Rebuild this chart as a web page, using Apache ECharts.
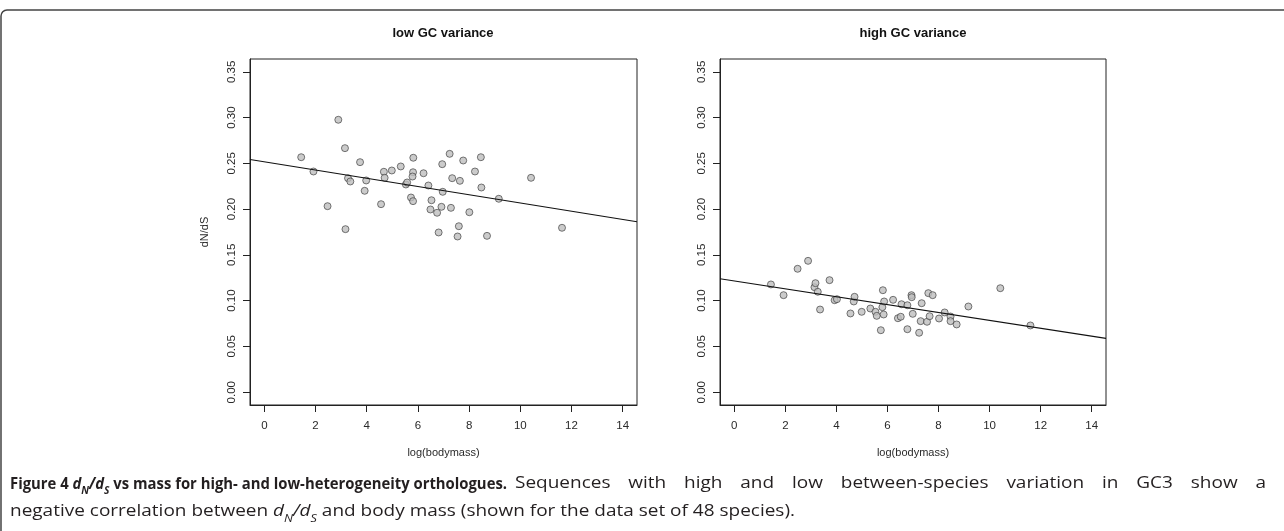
<!DOCTYPE html>
<html>
<head>
<meta charset="utf-8">
<script src="https://cdn.jsdelivr.net/npm/echarts@6/dist/echarts.min.js"></script>
<style>
html,body{margin:0;padding:0;background:#fff;}
#chart{width:1284px;height:531px;}
</style>
</head>
<body>
<div id="chart"></div>
<script>
// ---------------- data ----------------
const panelTitles = ['low GC variance', 'high GC variance'];
const xAxisTitle = 'log(bodymass)';
const yAxisTitle = 'dN/dS';
const xTickValues = [0, 2, 4, 6, 8, 10, 12, 14];
const yTickValues = [0, 0.05, 0.10, 0.15, 0.20, 0.25, 0.30, 0.35];

const lowBodymass = [1.44,1.92,2.47,2.89,3.15,3.17,3.27,3.36,3.74,3.92,3.98,4.56,4.67,4.70,4.98,5.33,5.53,5.58,5.73,5.81,5.82,5.81,5.79,6.22,6.41,6.49,6.53,6.75,6.81,6.92,6.95,6.97,7.24,7.29,7.34,7.55,7.60,7.64,7.77,8.01,8.23,8.46,8.48,8.70,9.16,10.42,11.63];
const lowDnds = [0.2567,0.2411,0.2032,0.2976,0.2666,0.1781,0.2338,0.2302,0.2513,0.2200,0.2313,0.2054,0.2408,0.2342,0.2422,0.2466,0.2269,0.2291,0.2127,0.2087,0.2561,0.2403,0.2356,0.2392,0.2258,0.1996,0.2097,0.1960,0.1745,0.2025,0.2491,0.2189,0.2604,0.2014,0.2338,0.1701,0.1813,0.2309,0.2531,0.1966,0.2411,0.2567,0.2236,0.1708,0.2113,0.2342,0.1796];

const highBodymass = [1.435,1.93,2.48,2.89,3.14,3.18,3.27,3.36,3.73,3.93,4.02,4.55,4.68,4.71,4.99,5.33,5.53,5.58,5.74,5.80,5.82,5.85,5.87,6.22,6.41,6.52,6.55,6.78,6.78,6.94,6.95,6.99,7.24,7.30,7.34,7.55,7.60,7.65,7.77,8.02,8.24,8.47,8.47,8.71,9.17,10.42,11.60];
const highDnds = [0.1177,0.1060,0.1348,0.1435,0.1147,0.1191,0.1097,0.0903,0.1224,0.1005,0.1016,0.0860,0.0991,0.1042,0.0878,0.0914,0.0878,0.0834,0.0677,0.0929,0.1114,0.0849,0.0991,0.1009,0.0808,0.0824,0.0961,0.0950,0.0688,0.1060,0.1038,0.0856,0.0649,0.0776,0.0972,0.0769,0.1082,0.0830,0.1060,0.0805,0.0871,0.0827,0.0776,0.0740,0.0936,0.1136,0.0729];

// fitted regression lines: [intercept, slope]
const lowFit = [0.2517, -0.00450];
const highFit = [0.1215, -0.00431];

// axis ranges (R style 4% extension of 0..14 and 0..0.35)
const X_MIN = -0.56, X_MAX = 14.56;
const Y_MIN = -0.014, Y_MAX = 0.364;

// ---------------- chart ----------------
const AX_FONT = '"Liberation Sans", Arial, Helvetica, sans-serif';
const chart = echarts.init(document.getElementById('chart'), null, {renderer: 'canvas'});

const grids = [
  {left: 250, top: 59, width: 387, height: 346},
  {left: 720, top: 59, width: 386, height: 346}
];

function zipPts(xs, ys) { return xs.map((x, i) => [x, ys[i]]); }
function fitLine(fit) { return [X_MIN, X_MAX].map(x => [x, fit[0] + fit[1] * x]); }

const xAxes = grids.map((g, i) => ({
  gridIndex: i, type: 'value', min: X_MIN, max: X_MAX,
  axisLine: {show: true, onZero: false, lineStyle: {color: '#222', width: 1}},
  splitLine: {show: false},
  axisTick: {show: true, inside: false, length: 7, customValues: xTickValues, lineStyle: {color: '#222', width: 1}},
  axisLabel: {show: true, customValues: xTickValues, margin: 15, fontFamily: AX_FONT, fontSize: 11.5, color: '#2a2a2a',
    formatter: v => String(v)},
  name: xAxisTitle, nameLocation: 'middle', nameGap: 42,
  nameTextStyle: {fontFamily: AX_FONT, fontSize: 11, color: '#2a2a2a'}
}));

const yAxes = grids.map((g, i) => ({
  gridIndex: i, type: 'value', min: Y_MIN, max: Y_MAX,
  axisLine: {show: true, onZero: false, lineStyle: {color: '#222', width: 1}},
  splitLine: {show: false},
  axisTick: {show: true, inside: false, length: 7, customValues: yTickValues, lineStyle: {color: '#222', width: 1}},
  axisLabel: {show: true, customValues: yTickValues, rotate: 90, margin: 12, fontFamily: AX_FONT, fontSize: 11.5, color: '#2a2a2a',
    formatter: v => v.toFixed(2)},
  name: i === 0 ? yAxisTitle : '', nameLocation: 'middle', nameRotate: 90, nameGap: 40,
  nameTextStyle: {fontFamily: AX_FONT, fontSize: 11, color: '#2a2a2a'}
}));

const pointStyle = {color: '#bebebe', borderColor: '#333', borderWidth: 0.8};
const series = [
  {type: 'scatter', xAxisIndex: 0, yAxisIndex: 0, data: zipPts(lowBodymass, lowDnds), symbol: 'circle', symbolSize: 7, itemStyle: pointStyle, z: 2},
  {type: 'line', xAxisIndex: 0, yAxisIndex: 0, data: fitLine(lowFit), symbol: 'none', clip: true, lineStyle: {color: '#111', width: 1.1}, z: 3},
  {type: 'scatter', xAxisIndex: 1, yAxisIndex: 1, data: zipPts(highBodymass, highDnds), symbol: 'circle', symbolSize: 7, itemStyle: pointStyle, z: 2},
  {type: 'line', xAxisIndex: 1, yAxisIndex: 1, data: fitLine(highFit), symbol: 'none', clip: true, lineStyle: {color: '#111', width: 1.1}, z: 3}
];

// ---------------- caption layout ----------------
const mctx = document.createElement('canvas').getContext('2d');
const CAP_FAMILY = '"Open Sans", "Noto Sans", sans-serif';
const ST = {
  B:   {family: CAP_FAMILY, size: 16, bold: true},
  BI:  {family: CAP_FAMILY, size: 16, bold: true, italic: true},
  BIs: {family: CAP_FAMILY, size: 11, bold: true, italic: true, dy: 4},
  R:   {family: CAP_FAMILY, size: 16.5},
  I:   {family: CAP_FAMILY, size: 16.5, italic: true},
  Is:  {family: CAP_FAMILY, size: 11, italic: true, dy: 4}
};
function fontStr(st) { return (st.italic ? 'italic ' : '') + (st.bold ? 'bold ' : '') + st.size + 'px ' + st.family; }
function measure(t, st) { mctx.font = fontStr(st); return mctx.measureText(t).width; }
function textEl(t, st, x, y, sx) {
  return {type: 'text', x: x, y: y + (st.dy || 0), scaleX: sx || 1, silent: true,
    style: {text: t, fontFamily: st.family, fontSize: st.size, fontWeight: st.bold ? 'bold' : 'normal',
      fontStyle: st.italic ? 'italic' : 'normal', fill: '#231f20', align: 'left', verticalAlign: 'bottom'}};
}
function runsWidth(runs) { return runs.reduce((s, r) => s + measure(r[0], ST[r[1]]), 0); }
function placeRuns(runs, x, y, sx, out) {
  runs.forEach(r => { out.push(textEl(r[0], ST[r[1]], x, y, sx)); x += measure(r[0], ST[r[1]]) * sx; });
  return x;
}
function placeJustified(runs, x0, x1, y, sx, out) {
  const words = [[]];
  runs.forEach(r => { r[0].split(' ').forEach((p, i) => { if (i > 0) words.push([]); if (p) words[words.length - 1].push([p, r[1]]); }); });
  const ws = words.filter(w => w.length);
  const total = ws.reduce((s, w) => s + runsWidth(w) * sx, 0);
  const gap = ws.length > 1 ? (x1 - x0 - total) / (ws.length - 1) : 0;
  let x = x0;
  ws.forEach(w => { x = placeRuns(w, x, y, sx, out) + gap; });
}

const capBold = [['Figure 4 ', 'B'], ['d', 'BI'], ['N', 'BIs'], ['/', 'BI'], ['d', 'BI'], ['S', 'BIs'], [' vs mass for high- and low-heterogeneity orthologues.', 'B']];
const capLine1 = [['Sequences with high and low between-species variation in GC3 show a', 'R']];
const capLine2 = [['negative correlation between ', 'R'], ['d', 'I'], ['N', 'Is'], ['/', 'I'], ['d', 'I'], ['S', 'Is'], [' and body mass (shown for the data set of 48 species).', 'R']];

const graphics = [];
graphics.push({type: 'rect', silent: true, shape: {x: 1, y: 10, width: 1400, height: 700, r: 6}, style: {fill: 'none', stroke: '#444', lineWidth: 1.5}});
graphics.push({type: 'text', x: 443, y: 33, silent: true, style: {text: panelTitles[0], fontFamily: AX_FONT, fontSize: 13, fontWeight: 'bold', fill: '#111', align: 'center', verticalAlign: 'middle'}});
graphics.push({type: 'text', x: 913, y: 33, silent: true, style: {text: panelTitles[1], fontFamily: AX_FONT, fontSize: 13, fontWeight: 'bold', fill: '#111', align: 'center', verticalAlign: 'middle'}});

const boldTarget = 497;
const boldScale = Math.min(1, boldTarget / runsWidth(capBold));
const boldEnd = placeRuns(capBold, 10, 492, boldScale, graphics);
// regular text horizontal scale so that line 2 spans ~785 px as in the source figure
const regScale = 785 / runsWidth(capLine2);
placeJustified(capLine1, boldEnd + 8, 1266, 492, regScale, graphics);
placeRuns(capLine2, 10, 520, regScale, graphics);

chart.setOption({
  animation: false,
  backgroundColor: '#ffffff',
  grid: grids.map(g => Object.assign({show: true, borderColor: '#222', borderWidth: 1, backgroundColor: 'transparent', containLabel: false, outerBoundsMode: 'none'}, g)),
  xAxis: xAxes,
  yAxis: yAxes,
  series: series,
  graphic: graphics
});
</script>
</body>
</html>
